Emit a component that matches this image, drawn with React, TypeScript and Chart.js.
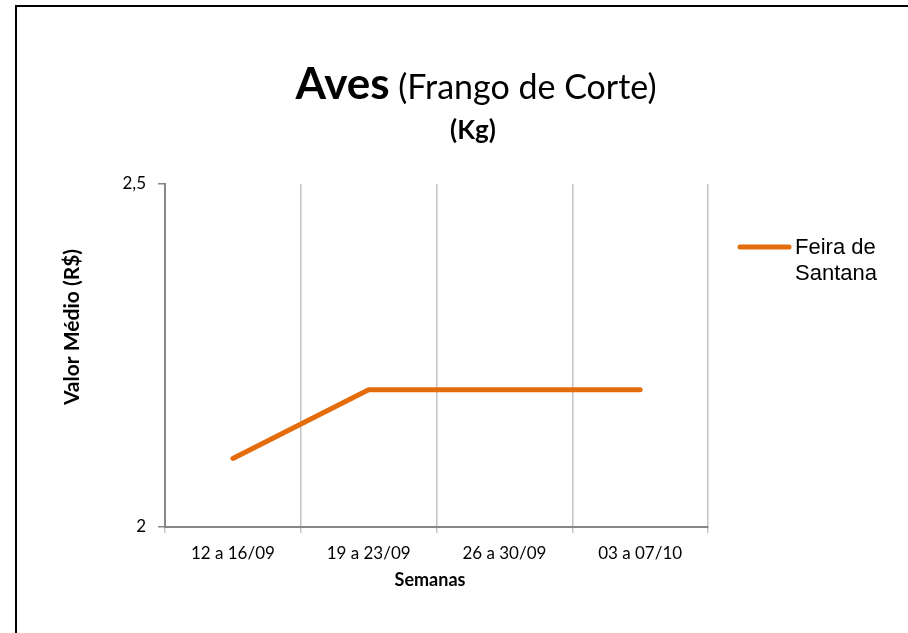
import React, { useEffect, useRef } from "react";
import { Chart, registerables } from "chart.js";

Chart.register(...registerables);

const categories = ["12 a 16/09", "19 a 23/09", "26 a 30/09", "03 a 07/10"];
const seriesLabel = ["Feira de", "Santana"];
const seriesValues = [2.1, 2.2, 2.2, 2.2];
const yTicks = [2, 2.5];

const titleBold = "Aves";
const titleRegular = " (Frango de Corte)";
const subtitle = "(Kg)";
const yTitle = "Valor Médio (R$)";
const xTitle = "Semanas";

const LINE_COLOR = "#E46C0A";
const FONT = "Lato, 'Open Sans', sans-serif";

const textPlugin = {
  id: "customText",
  afterDraw(chart: any) {
    const ctx = chart.ctx as CanvasRenderingContext2D;
    ctx.save();
    ctx.fillStyle = "#000";
    // Title
    ctx.textBaseline = "alphabetic";
    ctx.textAlign = "left";
    ctx.font = `bold 44px ${FONT}`;
    const w1 = ctx.measureText(titleBold).width;
    ctx.font = `34px ${FONT}`;
    const w2 = ctx.measureText(titleRegular).width;
    const cx = 476;
    let x = cx - (w1 + w2) / 2;
    ctx.font = `bold 44px ${FONT}`;
    ctx.fillText(titleBold, x, 99);
    ctx.font = `34px ${FONT}`;
    ctx.fillText(titleRegular, x + w1, 99);
    // Subtitle
    ctx.textAlign = "center";
    ctx.font = `bold 26px ${FONT}`;
    ctx.fillText(subtitle, 473, 139);
    // X title
    ctx.textBaseline = "middle";
    ctx.font = `bold 18px ${FONT}`;
    ctx.fillText(xTitle, 430, 580);
    // Y title
    ctx.save();
    ctx.translate(72, 327);
    ctx.rotate(-Math.PI / 2);
    ctx.font = `bold 21px ${FONT}`;
    ctx.fillText(yTitle, 0, 0);
    ctx.restore();
    // Legend
    const ds = chart.data.datasets[0];
    ctx.strokeStyle = ds.borderColor;
    ctx.lineWidth = 5;
    ctx.lineCap = "round";
    ctx.beginPath();
    ctx.moveTo(740, 247);
    ctx.lineTo(789, 247);
    ctx.stroke();
    ctx.textAlign = "left";
    ctx.font = `22px 'Liberation Sans', Arial, sans-serif`;
    const lbl: string[] = Array.isArray(ds.label) ? ds.label : [ds.label];
    lbl.forEach((t, i) => ctx.fillText(t, 795, 248 + i * 26));
    ctx.restore();
  },
};

export default function App() {
  const ref = useRef<HTMLCanvasElement>(null);
  useEffect(() => {
    if (!ref.current) return;
    const chart = new Chart(ref.current, {
      type: "line",
      data: {
        labels: categories,
        datasets: [
          {
            label: seriesLabel as any,
            data: seriesValues,
            borderColor: LINE_COLOR,
            backgroundColor: LINE_COLOR,
            borderWidth: 5,
            pointRadius: 0,
            borderCapStyle: "round",
            borderJoinStyle: "miter",
            tension: 0,
          },
        ],
      },
      options: {
        responsive: false,
        animation: false,
        devicePixelRatio: 1,
        layout: { padding: { left: 65, top: 184, right: 200, bottom: 46 } },
        plugins: {
          legend: { display: false },
          title: { display: false },
          tooltip: { enabled: false },
        },
        scales: {
          x: {
            type: "category",
            offset: true,
            grid: {
              offset: true,
              color: "#c4c4c4",
              lineWidth: 1.5,
              drawTicks: true,
              tickLength: 6,
            },
            border: { color: "#868686", width: 2 },
            ticks: {
              color: "#000",
              font: { family: FONT, size: 17 },
              padding: 10,
              maxRotation: 0,
              autoSkip: false,
            },
            afterFit(scale: any) {
              scale.height = 60;
            },
          },
          y: {
            min: 2,
            max: 2.5,
            grid: {
              drawOnChartArea: false,
              drawTicks: true,
              tickLength: 7,
              color: "#868686",
              lineWidth: 1.5,
            },
            border: { color: "#868686", width: 2 },
            ticks: {
              color: "#000",
              font: { family: FONT, size: 17 },
              padding: 12,
              callback: (v: any) => String(v).replace(".", ","),
            },
            afterBuildTicks(scale: any) {
              scale.ticks = yTicks.map((v) => ({ value: v }));
            },
            afterFit(scale: any) {
              scale.width = 100;
            },
          },
        },
      },
      plugins: [textPlugin],
    });
    return () => chart.destroy();
  }, []);

  return (
    <div style={{ position: "absolute", left: 0, top: 0, width: 908, height: 633, background: "#fff" }}>
      <canvas ref={ref} width={908} height={633} style={{ position: "absolute", left: 0, top: 0, width: 908, height: 633 }} />
      <div
        style={{
          position: "absolute",
          left: 15,
          top: 5,
          width: 893,
          height: 628,
          borderTop: "2px solid #000",
          borderLeft: "2px solid #000",
          pointerEvents: "none",
        }}
      />
    </div>
  );
}
